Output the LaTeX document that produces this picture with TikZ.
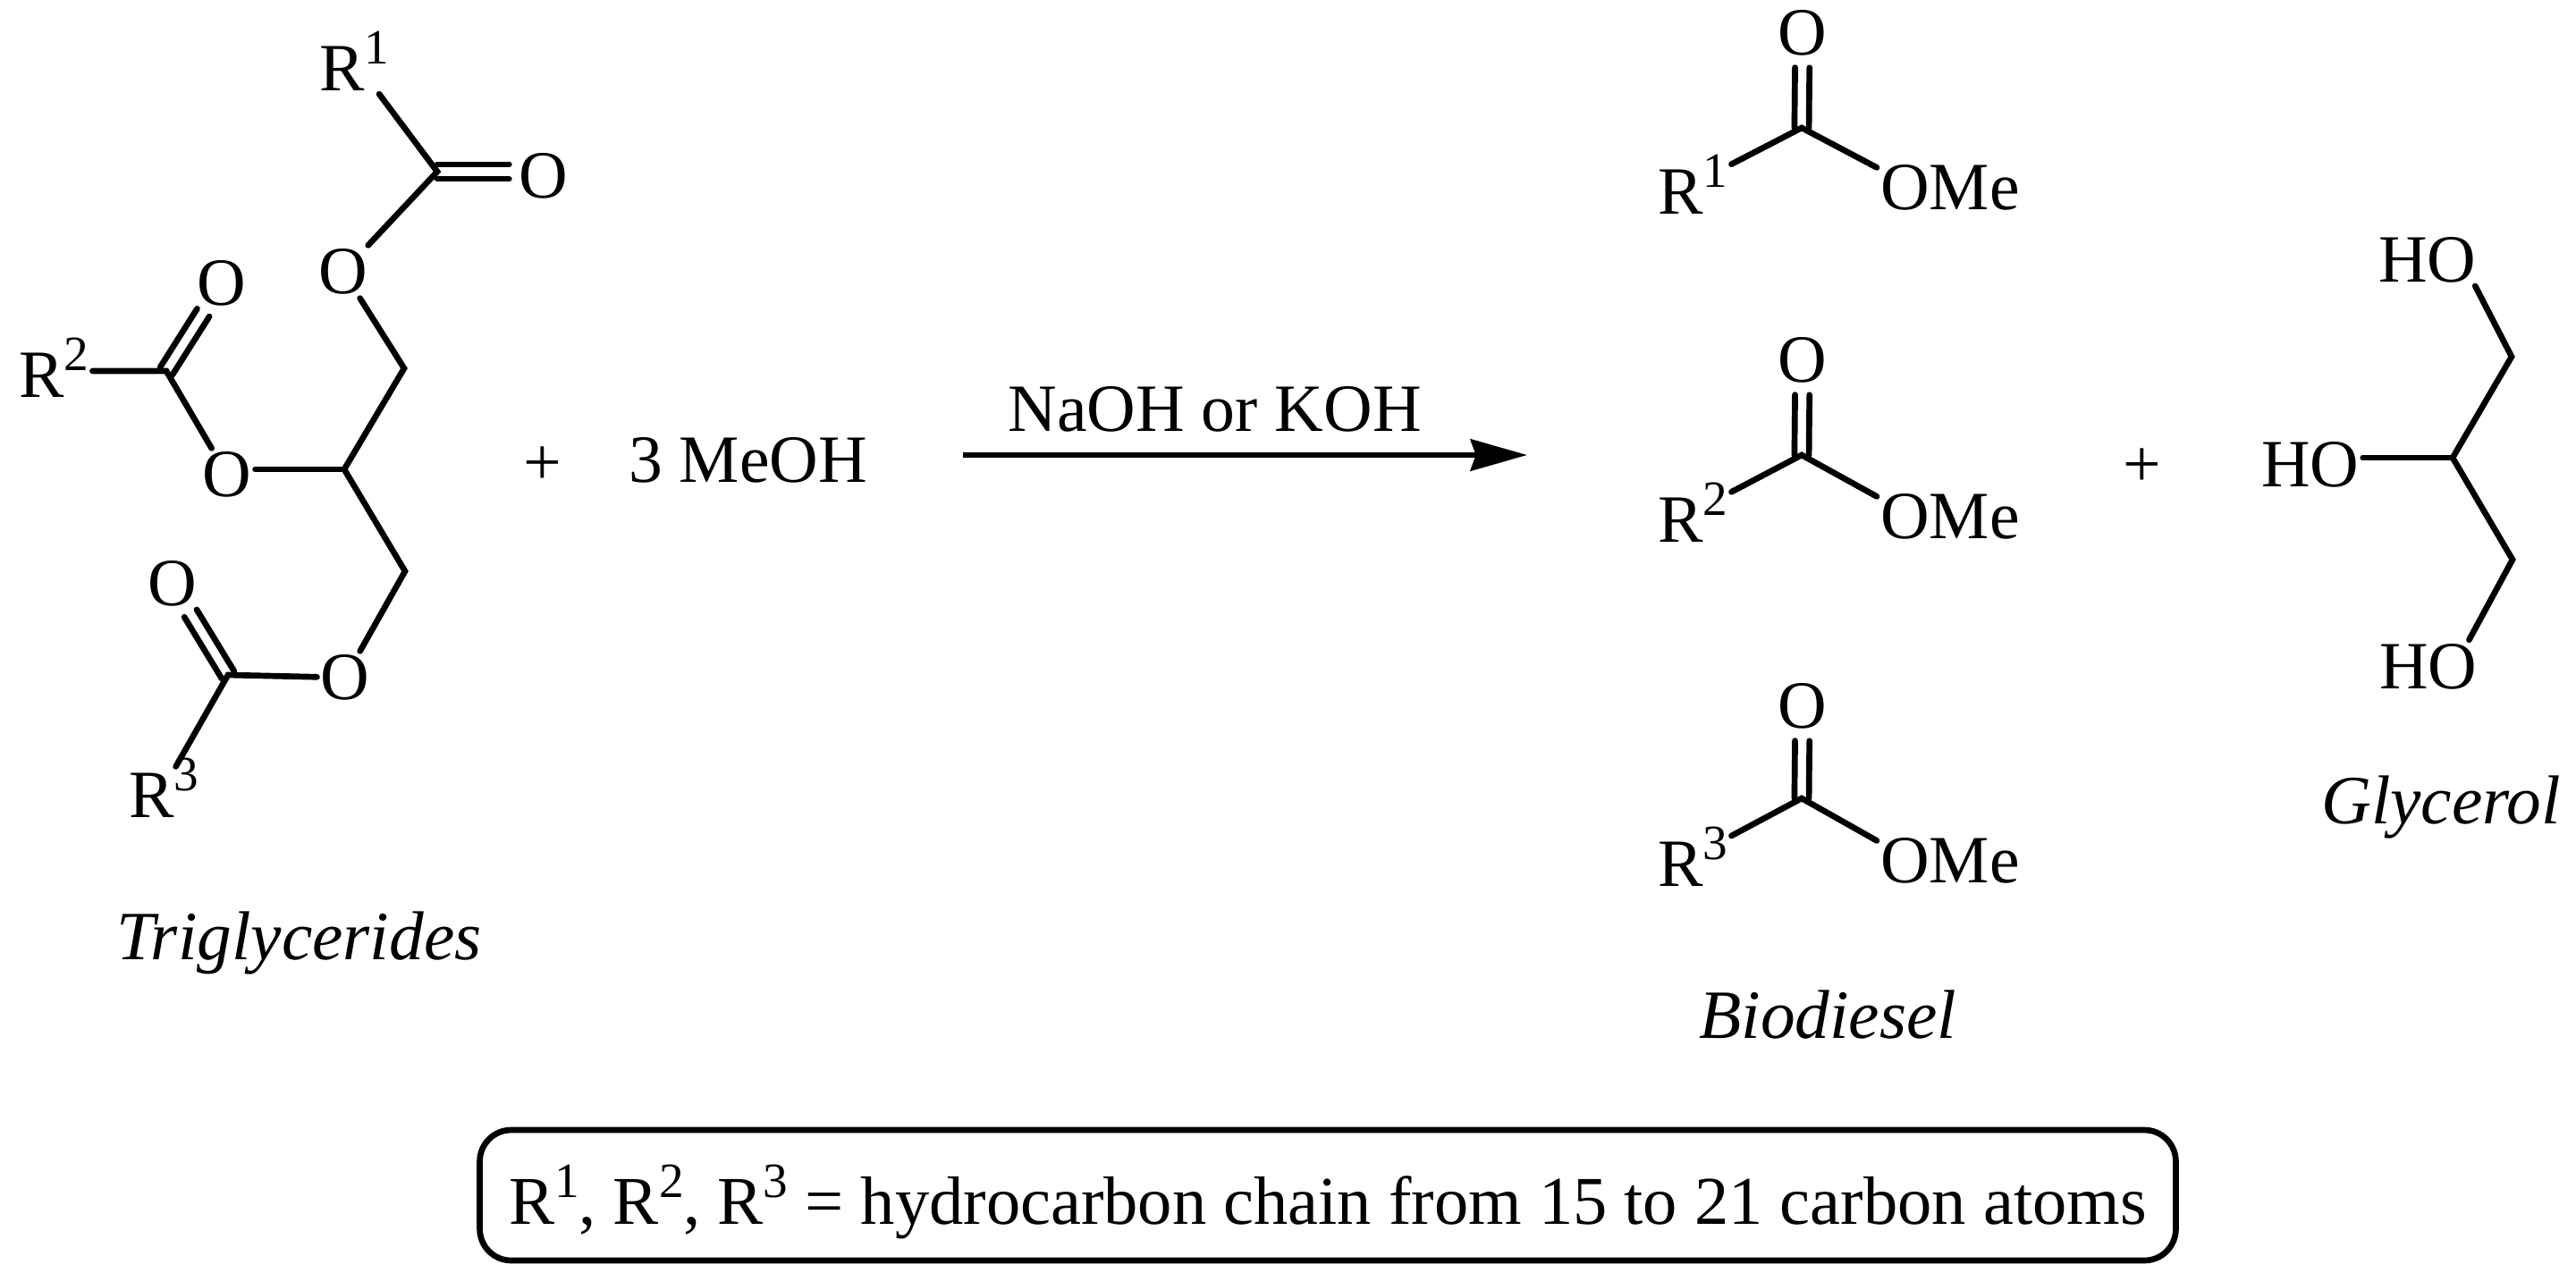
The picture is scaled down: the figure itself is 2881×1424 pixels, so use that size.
\documentclass[tikz,border=0pt]{standalone}
\usepackage{fontspec}
\setmainfont{Liberation Serif}
\usetikzlibrary{calc, arrows.meta}

\newcommand{\sups}[1]{\raisebox{.39em}{\fontsize{15.7}{18}\selectfont #1}}

\tikzset{
	bond/.style = {line width=1.9pt, line cap=round},
	atom/.style = {font=\fontsize{21.5}{25}\selectfont, inner sep=1pt},
	group/.style = {atom, anchor=base west},
	molname/.style = {font=\fontsize{22}{26}\selectfont\itshape, inner sep=1pt, anchor=base west},
	notebox/.style = {draw, line width=1.9pt, rounded corners=10pt, font=\fontsize{21.75}{25}\selectfont, inner sep=0pt, minimum width=539.4pt, minimum height=41.5pt, text height=23.5pt, text depth=5pt}
}

\begin{document}
\begin{tikzpicture}[x=0.01cm, y=-0.01cm]
	\def\gap{2.3pt};
	\def\away{11pt};

	\useasboundingbox (0,0) rectangle (2881,1424);

	% triglyceride
	\coordinate (Ca) at (489,192);
	\coordinate (Cb) at (186,415);
	\coordinate (Cc) at (255,755);
	\coordinate (CHa) at (452,412);
	\coordinate (CHb) at (385,525);
	\coordinate (CHc) at (453,639);
	\coordinate (Oaim) at (608,192);

	\node [atom] (Oa) at (608,197) {O};
	\node [atom] (Ob) at (384,304) {O};
	\node [atom] (Oc) at (248,317) {O};
	\node [atom] (Od) at (254,531) {O};
	\node [atom] (Oe) at (193,653) {O};
	\node [atom] (Of) at (386,758) {O};
	\node [group] (Ra) at (353,101) {R\sups{1}};
	\node [group] (Rb) at (17,444) {R\sups{2}};
	\node [group] (Rc) at (140,914) {R\sups{3}};

	\draw [bond] (Ra) -- (Ca) -- (Ob);
	\draw [bond] (Ob) -- (CHa) -- (CHb) -- (CHc) -- (Of);
	\draw [bond] (CHb) -- (CHb -| Od.east);
	\draw [bond] (Cb -| Rb.east) -- (Cb) -- (Od);
	\draw [bond, shorten <=-4.5pt] (Rc) -- (Cc) -- (Of);
	\begin{scope}[bond, shorten >=\away]
		\draw ($(Ca)!\gap!90:(Oaim)$) -- ($(Oaim)!\gap!-90:(Ca)$);
		\draw ($(Ca)!\gap!-90:(Oaim)$) -- ($(Oaim)!\gap!90:(Ca)$);
		\draw ($(Cb)!\gap!90:(Oc)$) -- ($(Oc)!\gap!-90:(Cb)$);
		\draw ($(Cb)!\gap!-90:(Oc)$) -- ($(Oc)!\gap!90:(Cb)$);
		\draw ($(Cc)!\gap!90:(Oe)$) -- ($(Oe)!\gap!-90:(Cc)$);
		\draw ($(Cc)!\gap!-90:(Oe)$) -- ($(Oe)!\gap!90:(Cc)$);
	\end{scope}

	\node [molname] (trig) at (126,1073) {Triglycerides};

	% reagents
	\node [atom] (plusa) at (607,521) {+};
	\node [group] (meoh) at (699,539) {3 MeOH};
	\node [group] (base) at (1123.5,482) {NaOH or KOH};
	\coordinate (arrowtail) at (1077,509);
	\coordinate (arrowhead) at (1708,509);
	\draw [line width=1.9pt, -{Stealth[length=18pt, width=10pt, inset=1.7pt]}] (arrowtail) -- (arrowhead);

	% esters
	\coordinate (Cd) at (2015,143);
	\coordinate (Ce) at (2015,509);
	\coordinate (Cf) at (2015,893);

	\node [atom] (Og) at (2016,37) {O};
	\node [atom] (Oh) at (2016,403) {O};
	\node [atom] (Oi) at (2016,790) {O};
	\node [group] (Rd) at (1850,239) {R\sups{1}};
	\node [group] (Re) at (1850,606) {R\sups{2}};
	\node [group] (Rf) at (1850,991) {R\sups{3}};
	\node [group] (OMea) at (2099,234) {OMe};
	\node [group] (OMeb) at (2099,602) {OMe};
	\node [group] (OMec) at (2099,987) {OMe};

	\draw [bond] (Rd) -- (Cd) -- (OMea.165);
	\draw [bond] (Re) -- (Ce) -- (OMeb.165);
	\draw [bond] (Rf) -- (Cf) -- (OMec.165);
	\begin{scope}[bond, shorten >=\away]
		\draw ($(Cd)!\gap!90:(Og)$) -- ($(Og)!\gap!-90:(Cd)$);
		\draw ($(Cd)!\gap!-90:(Og)$) -- ($(Og)!\gap!90:(Cd)$);
		\draw ($(Ce)!\gap!90:(Oh)$) -- ($(Oh)!\gap!-90:(Ce)$);
		\draw ($(Ce)!\gap!-90:(Oh)$) -- ($(Oh)!\gap!90:(Ce)$);
		\draw ($(Cf)!\gap!90:(Oi)$) -- ($(Oi)!\gap!-90:(Cf)$);
		\draw ($(Cf)!\gap!-90:(Oi)$) -- ($(Oi)!\gap!90:(Cf)$);
	\end{scope}

	\node [molname] (bio) at (1896,1161) {Biodiesel};

	% glycerol
	\coordinate (CHd) at (2809,399);
	\coordinate (CHe) at (2743,512);
	\coordinate (CHf) at (2810,626);

	\node [atom] (plusb) at (2396,523) {+};
	\node [group] (HOa) at (2656,315) {HO};
	\node [group] (HOb) at (2525,544) {HO};
	\node [group] (HOc) at (2657,770) {HO};

	\draw [bond] (HOa.-29) -- (CHd) -- (CHe) -- (CHf) -- (HOc.33);
	\draw [bond] (CHe -| HOb.east) -- (CHe);

	\node [molname] (gly) at (2592,921) {Glycerol};

	\node [notebox] (note) at (1485,1337) {R\sups{1}, R\sups{2}, R\sups{3} = hydrocarbon chain from 15 to 21 carbon atoms\hspace{1.7pt}};
\end{tikzpicture}
\end{document}
